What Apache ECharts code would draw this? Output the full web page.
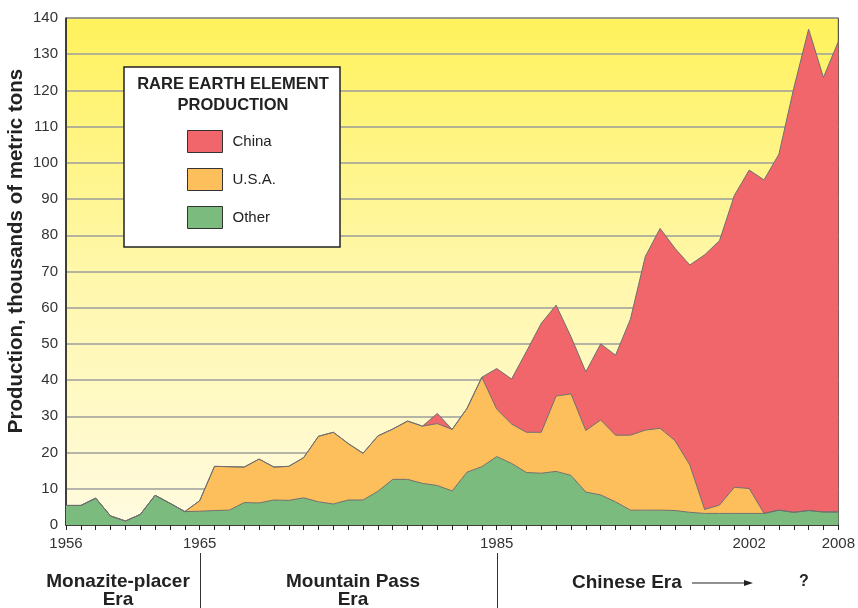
<!DOCTYPE html>
<html>
<head>
<meta charset="utf-8">
<script src="https://cdn.jsdelivr.net/npm/echarts@6/dist/echarts.min.js"></script>
<style>
html,body{margin:0;padding:0;background:#fff;}
#c{width:858px;height:608px;}
</style>
</head>
<body>
<div id="c"></div>
<script>
// ---- data (thousands of metric tons) ----
var years = [1956,1957,1958,1959,1960,1961,1962,1963,1964,1965,1966,1967,1968,1969,1970,1971,1972,1973,1974,1975,1976,1977,1978,1979,1980,1981,1982,1983,1984,1985,1986,1987,1988,1989,1990,1991,1992,1993,1994,1995,1996,1997,1998,1999,2000,2001,2002,2003,2004,2005,2006,2007,2008];
var other = [5.4,5.4,7.4,2.5,1.1,2.9,8.2,6.0,3.7,3.8,4.0,4.1,6.2,6.1,6.9,6.8,7.5,6.4,5.8,6.9,6.9,9.3,12.6,12.6,11.5,10.9,9.4,14.6,16.1,18.9,17.0,14.5,14.3,14.8,13.7,9.1,8.3,6.4,4.1,4.1,4.1,4.0,3.5,3.2,3.2,3.2,3.2,3.2,4.1,3.5,4.0,3.6,3.6];
var usa = [0,0,0,0,0,0,0,0,0,2.9,12.2,12.0,9.8,12.1,9.1,9.4,11.1,18.1,19.8,15.6,12.9,15.3,13.9,16.1,15.8,17.1,17.0,17.6,24.7,13.1,10.9,11.1,11.3,20.8,22.5,17.0,20.7,18.4,20.7,22.1,22.6,19.3,13.1,1.1,2.3,7.2,6.9,0,0,0,0,0,0];
var china = [0,0,0,0,0,0,0,0,0,0,0,0,0,0,0,0,0,0,0,0,0,0,0,0,0,2.8,0,0,0,11.2,12.4,22.3,30.1,25.1,15.8,16.2,21.0,22.1,32.0,47.9,55.2,53.1,55.2,70.3,73.0,80.6,87.9,92.1,98.3,117.1,132.9,120.0,129.9];
var xLabelYears = ['1956','1965','1985','2002','2008'];
var eraBreaks = ['1965','1985'];

var REG = '"Liberation Sans",Arial,sans-serif';
var lineGrey = '#6f6f6f';

function areaSeries(name, vals, color){
  return {
    name: name, type: 'line', stack: 'total', data: vals,
    symbol: 'none', smooth: false, z: 2,
    lineStyle: {color: lineGrey, width: 1},
    itemStyle: {color: color},
    areaStyle: {color: color, opacity: 1}
  };
}

var chart = echarts.init(document.getElementById('c'), null, {renderer: 'canvas'});
var option = {
  animation: false,
  backgroundColor: '#ffffff',
  grid: {
    left: 66, right: 15, top: 18, bottom: 83, show: true,
    borderColor: '#333', borderWidth: 1,
    backgroundColor: new echarts.graphic.LinearGradient(0,0,0,1,[
      {offset:0, color:'#fff25c'},
      {offset:0.5, color:'#fff7aa'},
      {offset:1, color:'#fffbdf'}
    ])
  },
  xAxis: {
    type: 'category', data: years.map(String), boundaryGap: false,
    axisLine: {lineStyle: {color: '#222', width: 1.5}},
    axisTick: {show: true, interval: 0, length: 5, lineStyle: {color: '#222', width: 1}},
    splitLine: {show: false},
    axisLabel: {
      interval: 0, margin: 11, color: '#333', fontSize: 15, fontFamily: REG,
      formatter: function(v){ return xLabelYears.indexOf(v) >= 0 ? v : ''; }
    }
  },
  yAxis: {
    type: 'value', min: 0, max: 140, interval: 10,
    axisLine: {show: true, lineStyle: {color: '#222', width: 1.5}},
    axisTick: {show: false},
    splitLine: {show: true, lineStyle: {color: '#9c9c9c', width: 1.5}},
    axisLabel: {margin: 8, color: '#333', fontSize: 15, fontFamily: REG}
  },
  legend: {
    orient: 'vertical', left: 187, top: 130, z: 10,
    itemWidth: 35, itemHeight: 22, itemGap: 15, padding: 0,
    icon: 'rect',
    itemStyle: {borderColor: '#333', borderWidth: 1},
    data: ['China','U.S.A.','Other'],
    textStyle: {fontSize: 15, fontFamily: REG, color: '#222', padding: [0,0,0,5]}
  },
  series: [
    areaSeries('Other', other, '#7bbb7d'),
    areaSeries('U.S.A.', usa, '#fdbf5b'),
    areaSeries('China', china, '#f0666b')
  ]
};
chart.setOption(option);

function px(y){ return chart.convertToPixel({xAxisIndex: 0}, y); }
var gfx = [
  {type:'rect', z: 5, shape:{x:124, y:67, width:216, height:180}, style:{fill:'#fff', stroke:'#222', lineWidth:1.5}},
  {type:'text', z: 6, x: 233, y: 74, style:{text:'RARE EARTH ELEMENT\nPRODUCTION', textAlign:'center', fill:'#222', font:'bold 16.5px ' + REG, lineHeight: 21}},
  {type:'text', z: 6, x: 16, y: 251, rotation: Math.PI/2, style:{text:'Production, thousands of metric tons', textAlign:'center', textVerticalAlign:'middle', fill:'#222', font:'bold 20.5px ' + REG}},
  {type:'text', z: 6, x: 118, y: 573, style:{text:'Monazite-placer\nEra', textAlign:'center', fill:'#222', font:'bold 19px ' + REG, lineHeight: 18}},
  {type:'text', z: 6, x: 353, y: 573, style:{text:'Mountain Pass\nEra', textAlign:'center', fill:'#222', font:'bold 19px ' + REG, lineHeight: 18}},
  {type:'text', z: 6, x: 572, y: 573, style:{text:'Chinese Era', textAlign:'left', fill:'#222', font:'bold 19px ' + REG}},
  {type:'line', z: 6, shape:{x1:692, y1:583, x2:748, y2:583}, style:{stroke:'#222', lineWidth:1.2}},
  {type:'polygon', z: 6, shape:{points:[[753,583],[744,580],[744,586]]}, style:{fill:'#222'}},
  {type:'text', z: 6, x: 804, y: 574, style:{text:'?', textAlign:'center', fill:'#222', font:'bold 16px ' + REG}}
];
eraBreaks.forEach(function(y){
  var x = Math.round(px(y)) + 0.5;
  gfx.push({type:'line', z: 6, shape:{x1:x, y1:553, x2:x, y2:608}, style:{stroke:'#333', lineWidth:1}});
});
chart.setOption({graphic: gfx});
</script>
</body>
</html>
